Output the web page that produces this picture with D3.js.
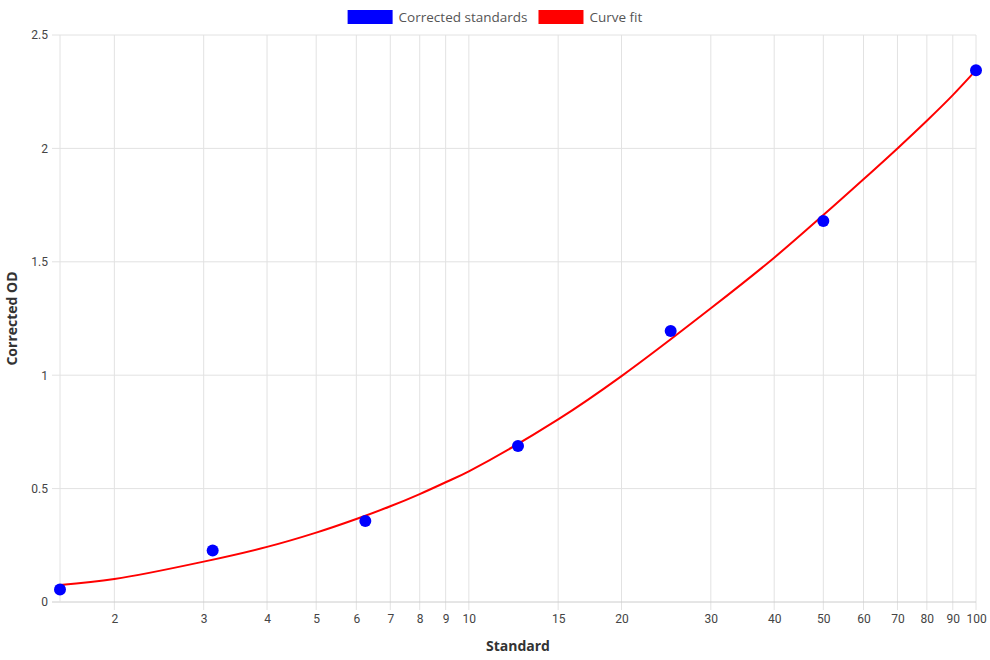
<!DOCTYPE html>
<html>
<head>
<meta charset="utf-8">
<script src="https://cdn.jsdelivr.net/npm/d3@7"></script>
<style>
  body { margin: 0; background: #fff; }
  svg { display: block; }
</style>
</head>
<body>
<svg id="chart" width="990" height="660"></svg>
<script>
// measured standards
const standards = [1.5625, 3.125, 6.25, 12.5, 25, 50, 100]
const correctedOD = [0.055, 0.227, 0.357, 0.688, 1.195, 1.68, 2.345]

// fitted curve
const fitX = [1.5625, 2, 3, 4, 5, 6, 7, 8, 9, 10, 15, 20, 30, 40, 50, 60, 70, 80, 90, 100]
const fitY = [0.075, 0.101, 0.178, 0.243, 0.306, 0.366, 0.422, 0.476, 0.528, 0.576, 0.805, 0.996, 1.295, 1.518, 1.706, 1.864, 2.000, 2.122, 2.235, 2.345]

const xTicks = [2, 3, 4, 5, 6, 7, 8, 9, 10, 15, 20, 30, 40, 50, 60, 70, 80, 90, 100]
const yTicks = [0, 0.5, 1, 1.5, 2, 2.5]

const margin = { top: 35, left: 60, bottom: 58, right: 14 },
  width = 990, height = 660,
  innerwidth = width - margin.left - margin.right,
  innerheight = height - margin.top - margin.bottom

const svg = d3.select('#chart')
const g = svg.append('g').attr('transform', `translate(${margin.left},${margin.top})`)

const xScale = d3.scaleLog().domain([1.5625, 100]).range([0, innerwidth])
const yScale = d3.scaleLinear().domain([0, 2.5]).range([innerheight, 0])

// grid
g.append('g').selectAll('line').data(xTicks).enter().append('line')
  .attr('x1', d => xScale(d)).attr('x2', d => xScale(d))
  .attr('y1', 0).attr('y2', innerheight + 8)
  .attr('stroke', '#e2e2e2')
g.append('g').selectAll('line').data(yTicks).enter().append('line')
  .attr('x1', -8).attr('x2', innerwidth)
  .attr('y1', d => yScale(d)).attr('y2', d => yScale(d))
  .attr('stroke', d => d === 0 ? '#cccccc' : '#e2e2e2')
g.append('line').attr('x1', 0).attr('x2', 0).attr('y1', 0).attr('y2', innerheight)
  .attr('stroke', '#e2e2e2')

// axes
const xAxis = d3.axisBottom(xScale).tickValues(xTicks).tickFormat(d3.format('d')).tickSize(0).tickPadding(12)
const yAxis = d3.axisLeft(yScale).tickValues(yTicks).tickFormat(d => d).tickSize(0).tickPadding(12)

const xg = g.append('g').attr('transform', `translate(0,${innerheight})`).call(xAxis)
const yg = g.append('g').call(yAxis)
xg.select('.domain').remove()
yg.select('.domain').remove()
g.selectAll('.tick text')
  .attr('font-family', 'Roboto, sans-serif')
  .attr('font-size', '12px')
  .attr('fill', '#444')

// axis titles
g.append('text')
  .attr('x', innerwidth / 2).attr('y', innerheight + 49)
  .attr('text-anchor', 'middle')
  .attr('font-family', '"Open Sans", sans-serif').attr('font-weight', 'bold').attr('font-size', '14px')
  .attr('fill', '#333')
  .text('Standard')
g.append('text')
  .attr('transform', 'rotate(-90)')
  .attr('x', -innerheight / 2).attr('y', -43)
  .attr('text-anchor', 'middle')
  .attr('font-family', '"Open Sans", sans-serif').attr('font-weight', 'bold').attr('font-size', '14px')
  .attr('fill', '#333')
  .text('Corrected OD')

// curve
const fit = fitX.map((x, i) => ({ x, y: fitY[i] }))
const line = d3.line().x(d => xScale(d.x)).y(d => yScale(d.y)).curve(d3.curveCatmullRom.alpha(0.5))
g.append('path').datum(fit)
  .attr('d', line)
  .attr('fill', 'none')
  .attr('stroke', '#ff0000')
  .attr('stroke-width', 2)

// points
g.selectAll('.pt').data(standards).enter().append('circle')
  .attr('class', 'pt')
  .attr('cx', d => xScale(d))
  .attr('cy', (d, i) => yScale(correctedOD[i]))
  .attr('r', 6)
  .attr('fill', '#0000ff')

// legend, centred over the chart
const legend = [{ name: 'Corrected standards', color: '#0000ff' }, { name: 'Curve fit', color: '#ff0000' }]
const lg = svg.append('g')
let lx = 0
legend.forEach(item => {
  lg.append('rect').attr('x', lx).attr('y', 10).attr('width', 45).attr('height', 14).attr('fill', item.color)
  const t = lg.append('text').attr('x', lx + 51).attr('y', 21.5)
    .attr('font-family', '"Open Sans", sans-serif').attr('font-size', '13.5px').attr('fill', '#555')
    .text(item.name)
  lx += 51 + t.node().getComputedTextLength() + 11
})
lg.attr('transform', `translate(${(width - (lx - 11)) / 2},0)`)
</script>
</body>
</html>
